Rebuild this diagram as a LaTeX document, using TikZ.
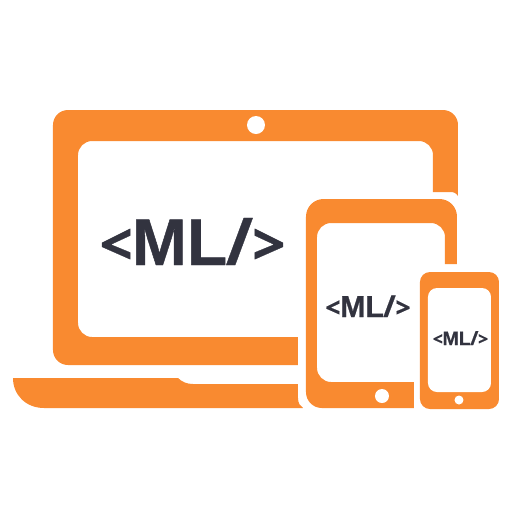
\documentclass[tikz,border=0pt]{standalone}
\usepackage{fontspec}
\usepackage{graphicx}
\setmainfont{Liberation Sans}[BoldFeatures={FakeBold=0.7}]
\newfontfamily\markfont{Open Sans}[BoldFeatures={FakeBold=0.5}]
\newcommand{\mltext}{\scalebox{.88}{\markfont\bfseries<}\kern-.01em ML{\markfont\bfseries\kern-.02em/}\kern-.01em\scalebox{.88}{\markfont\bfseries>}}
\definecolor{org}{HTML}{F98A30}
\definecolor{ink}{HTML}{32333F}
\tikzset{x=0.02cm,y=-0.02cm,
 device/.style={fill=org,draw=none},
 hole/.style={fill=white,draw=none},
 mlnode/.style={text=ink,inner sep=0pt,anchor=base}}
\begin{document}
\begin{tikzpicture}
\useasboundingbox (0,0) rectangle (512,512);
% laptop lid
\fill[device] (53,200) [rounded corners=8.5pt] -- (53,110) -- (458,110) [sharp corners] -- (458,196)
  .. controls (456,193) and (454,192) .. (450,192) -- (433,192) [rounded corners=8pt] -- (433,141) -- (78,141) -- (78,337) [sharp corners] -- (298,337) -- (298,365) [rounded corners=8.5pt] -- (53,365) [sharp corners] -- cycle;
\fill[hole] (256,125) circle[radius=9];
% laptop base
\fill[device] (13,378) -- (178,378) .. controls (182,382) and (187,384) .. (193,384) -- (298,384) -- (298,398)
  .. controls (298,403) and (300,406) .. (303,408) -- (44,408) .. controls (26,408) and (13,395) .. (13,378) -- cycle;
% tablet
\fill[device] (306,300) [rounded corners=10pt] -- (306,199) -- (457,199) [sharp corners] -- (457,264) -- (445,264) [rounded corners=8pt] -- (445,223) -- (317,223) -- (317,382) [sharp corners] -- (414,382) -- (414,408) [rounded corners=9pt] -- (306,408) [sharp corners] -- cycle;
\fill[hole] (382,396) circle[radius=7];
% phone
\fill[device,rounded corners=5.67pt] (420,272) rectangle (499,409);
\fill[hole,rounded corners=5.1pt] (428,288) rectangle (491,392);
\fill[hole] (459,400) circle[radius=4.5];
% labels
\node[mlnode,font=\bfseries\fontsize{37.5}{38}\selectfont] (big) at (192.5,265) {\mltext};
\node[mlnode,font=\bfseries\fontsize{17.2}{18}\selectfont] (mid) at (368,317) {\mltext};
\node[mlnode,font=\bfseries\fontsize{11.1}{12}\selectfont] (small) at (460.5,345) {\mltext};
\end{tikzpicture}
\end{document}
